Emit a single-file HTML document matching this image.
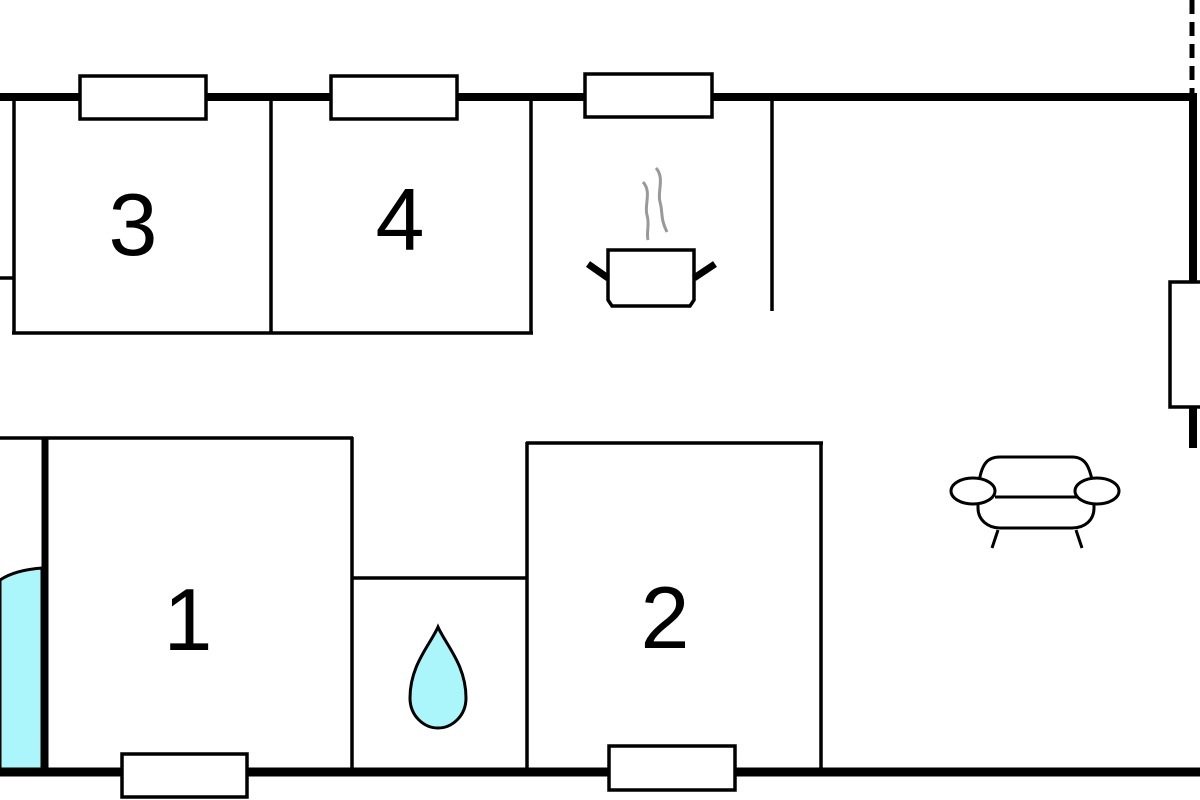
<!DOCTYPE html>
<html><head><meta charset="utf-8"><style>html,body{margin:0;padding:0;background:#fff}svg{display:block}</style></head>
<body>
<svg width="1200" height="800" viewBox="0 0 1200 800" xmlns="http://www.w3.org/2000/svg">
<rect width="1200" height="800" fill="#fff"/>
<!-- blue arc region -->
<path d="M0,580 Q15,570 42,568 L42,772 L0,772 Z" fill="#aaf6fa" stroke="#000" stroke-width="3"/>
<g stroke="#000" fill="none">
<!-- top thick wall -->
<line x1="0" y1="97" x2="1197" y2="97" stroke-width="8"/>
<!-- right wall -->
<line x1="1193" y1="93" x2="1193" y2="448" stroke-width="8"/>
<line x1="1192" y1="0" x2="1192" y2="93" stroke-width="5" stroke-dasharray="14,8"/>
<!-- bottom wall -->
<line x1="0" y1="772" x2="1200" y2="772" stroke-width="9"/>
<!-- rooms top -->
<g stroke-width="3.5">
<line x1="14" y1="97" x2="14" y2="334"/>
<line x1="271" y1="97" x2="271" y2="334"/>
<line x1="531" y1="97" x2="531" y2="334"/>
<line x1="12" y1="333" x2="533" y2="333"/>
<line x1="0" y1="278" x2="14" y2="278"/>
<line x1="772" y1="97" x2="772" y2="311"/>
<!-- rooms bottom -->
<line x1="0" y1="438" x2="353" y2="438"/>
<line x1="352" y1="437" x2="352" y2="772"/>
<line x1="352" y1="578" x2="527" y2="578"/>
<line x1="527" y1="442" x2="527" y2="772"/>
<line x1="526" y1="443" x2="823" y2="443"/>
<line x1="821" y1="442" x2="821" y2="772"/>
</g>
<line x1="45" y1="438" x2="45" y2="772" stroke-width="7"/>
</g>
<!-- windows -->
<g fill="#fff" stroke="#000" stroke-width="3.5">
<rect x="80" y="76" width="126" height="43"/>
<rect x="331" y="76" width="126" height="43"/>
<rect x="585" y="74" width="127" height="43"/>
<rect x="1170" y="282" width="32" height="125"/>
<rect x="122" y="754" width="125" height="43"/>
<rect x="609" y="746" width="126" height="44"/>
</g>
<!-- numbers -->
<g font-family="Liberation Sans, sans-serif" font-size="88" text-anchor="middle" fill="#000">
<text x="133" y="255">3</text>
<text x="400" y="250">4</text>
<text x="188" y="650">1</text>
<text x="665" y="648">2</text>
</g>
<!-- drop -->
<path d="M438,627 C430,645 410,665 410,698 C410,716 424,728 438,728 C452,728 466,716 466,698 C466,665 446,645 438,627 Z" fill="#aaf6fa" stroke="#000" stroke-width="3"/>
<!-- pot -->
<g stroke="#000" fill="none">
<path d="M608,250 L694,250 L694,300 L690,306 L612,306 L608,300 Z" fill="#fff" stroke-width="3.5"/>
<line x1="588" y1="264" x2="608" y2="278" stroke-width="7"/>
<line x1="715" y1="264" x2="694" y2="278" stroke-width="7"/>
</g>
<g stroke="#999" stroke-width="3" fill="none">
<path d="M643,182 C652,192 644,205 647,215 C650,225 646,232 648,240"/>
<path d="M656,168 C665,178 657,192 660,202 C663,212 660,218 667,232"/>
</g>
<!-- sofa -->
<g stroke="#000" stroke-width="3" fill="#fff">
<path d="M978,492 C980,460 990,457 1000,457 L1072,457 C1085,457 1090,465 1094,490 L1094,508 C1094,520 1085,528 1072,528 L1000,528 C988,528 978,520 978,508 Z"/>
<line x1="995" y1="497" x2="1078" y2="497"/>
<ellipse cx="973" cy="491" rx="22" ry="13"/>
<ellipse cx="1097" cy="491" rx="22" ry="13"/>
<line x1="998" y1="530" x2="992" y2="548"/>
<line x1="1076" y1="530" x2="1082" y2="548"/>
</g>
</svg>
</body></html>
